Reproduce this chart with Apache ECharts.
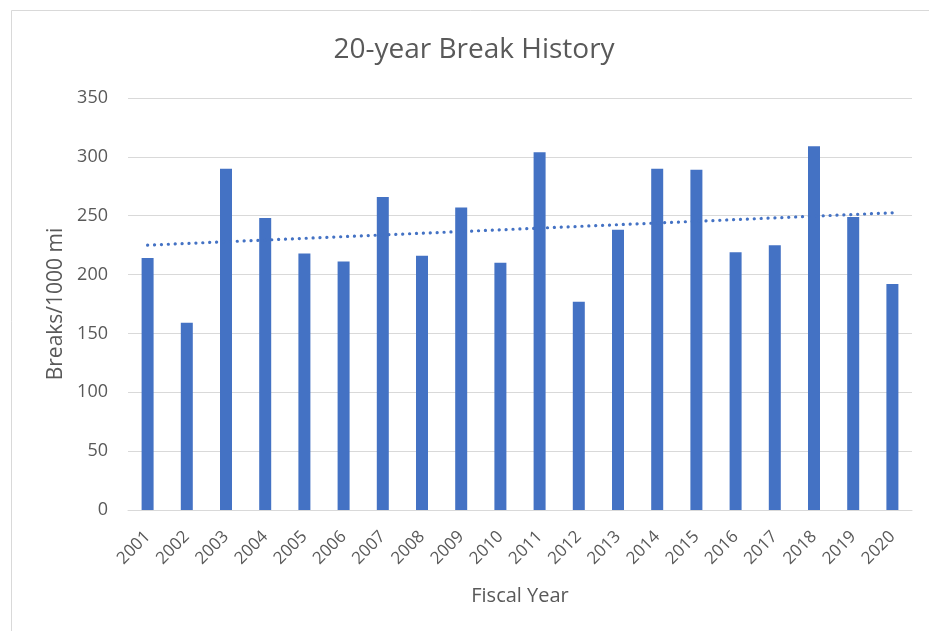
<!DOCTYPE html>
<html>
<head>
<meta charset="utf-8">
<script src="https://cdn.jsdelivr.net/npm/echarts@6/dist/echarts.min.js"></script>
<style>
  html, body { margin: 0; padding: 0; background: #fff; }
  #chart { width: 929px; height: 631px; }
</style>
</head>
<body>
<div id="chart"></div>
<script>
const years = ["2001", "2002", "2003", "2004", "2005", "2006", "2007", "2008", "2009", "2010",
  "2011", "2012", "2013", "2014", "2015", "2016", "2017", "2018", "2019", "2020"];
const breaks = [214, 159, 290, 248, 218, 211, 266, 216, 257, 210,
  304, 177, 238, 290, 289, 219, 225, 309, 249, 192];
// trendline end values (2001 and 2020)
const trendEnds = [225, 252.5];
const yTicks = [0, 50, 100, 150, 200, 250, 300, 350];

const trend = years.map((y, i) => {
  if (i === 0) return trendEnds[0];
  if (i === years.length - 1) return trendEnds[1];
  return null;
});

const textColor = "#595959";
const gridColor = "#d9d9d9";
const font = "'Open Sans', sans-serif";

const chart = echarts.init(document.getElementById("chart"));
const option = {
  backgroundColor: "#fff",
  animation: false,
  textStyle: { fontFamily: font },
  graphic: [
    {
      type: "rect",
      shape: { x: 11.5, y: 10.5, width: 940, height: 640 },
      style: { fill: "none", stroke: gridColor, lineWidth: 1 },
      silent: true,
    },
  ],
  title: {
    text: "20-year Break History",
    left: 469,
    textAlign: "center",
    top: 31,
    textStyle: { color: textColor, fontSize: 28, fontWeight: "normal", fontFamily: font },
  },
  grid: {
    left: 128,
    right: 17,
    top: 98,
    bottom: 121,
  },
  xAxis: {
    type: "category",
    data: years,
    name: "Fiscal Year",
    nameLocation: "middle",
    nameGap: 76,
    nameTextStyle: { color: textColor, fontSize: 20, fontFamily: font },
    axisLine: { lineStyle: { color: gridColor, width: 1 } },
    axisTick: { show: false },
    axisLabel: {
      rotate: 45,
      color: textColor,
      fontSize: 17,
      margin: 24,
      interval: 0,
      fontFamily: font,
    },
  },
  yAxis: {
    type: "value",
    min: yTicks[0],
    max: yTicks[yTicks.length - 1],
    interval: yTicks[1] - yTicks[0],
    name: "Breaks/1000 mi",
    nameLocation: "middle",
    nameRotate: 90,
    nameGap: 60,
    nameTextStyle: { color: textColor, fontSize: 21, fontFamily: font },
    axisLine: { show: false },
    axisTick: { show: false },
    axisLabel: { color: textColor, fontSize: 18, margin: 20, fontFamily: font },
    splitLine: { lineStyle: { color: gridColor, width: 1 } },
  },
  series: [
    {
      name: "Breaks",
      type: "bar",
      data: breaks,
      barWidth: 12,
      itemStyle: { color: "#4472c4" },
    },
    {
      name: "Trend",
      type: "line",
      data: trend,
      connectNulls: true,
      symbol: "none",
      z: 3,
      lineStyle: {
        color: "#4472c4",
        width: 3.2,
        type: [0.1, 6.8],
        cap: "round",
      },
    },
  ],
};
chart.setOption(option);
</script>
</body>
</html>
